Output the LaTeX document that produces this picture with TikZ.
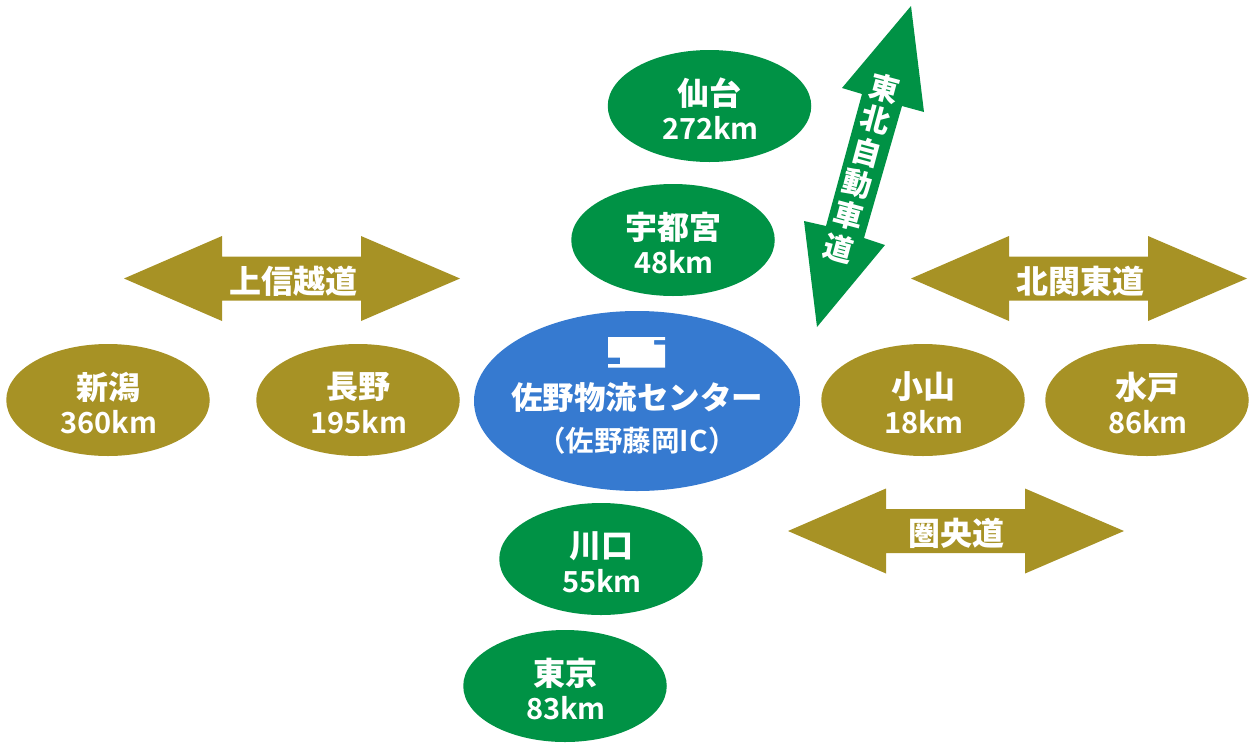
\documentclass[tikz,border=0pt]{standalone}
\usepackage{fontspec}
\setmainfont{Liberation Sans}
\newfontfamily\cjk{Noto Sans CJK JP}[UprightFont=* Black]
\newfontfamily\cjkb{Noto Sans CJK JP}[UprightFont=* Bold]
\newfontfamily\lat{Noto Sans CJK JP}[UprightFont=* Bold]
\definecolor{gr}{RGB}{0,146,69}
\definecolor{ol}{RGB}{167,146,37}
\definecolor{bl}{RGB}{54,122,208}
\usetikzlibrary{shapes.geometric,calc}
\tikzset{x=1pt,y=-1pt,
 oval/.style={ellipse,minimum width=203.5pt,minimum height=112pt,inner sep=0pt},
 txt/.style={text=white,inner sep=0pt},
 lab/.style={txt,font=\cjk\fontsize{32}{36}\selectfont},
 vlab/.style={txt,rotate=-15,font=\cjk\fontsize{29.5}{32}\selectfont}}
\newcommand{\dest}[5]{\node[oval,fill=#2] (#1) at (#3) {};
 \node[lab] (#1n) at ($(#3)+(0,-13)$) {#4};
 \node[txt,font=\lat\fontsize{29}{32}\selectfont] (#1k) at ($(#3)+(1,22)$) {#5};}
\newcommand{\harrow}[2]{%
 \fill[ol] (#1-168,#2) -- (#1-70,#2-42.5) -- (#1-70,#2-22) -- (#1+69,#2-22) -- (#1+69,#2-42.5) -- (#1+168,#2) -- (#1+69,#2+42.5) -- (#1+69,#2+22) -- (#1-70,#2+22) -- (#1-70,#2+42.5) -- cycle;}
\begin{document}
\begin{tikzpicture}
\useasboundingbox (0,0) rectangle (1255,750);
\dest{sendai}{gr}{709.5,106}{仙台}{272km}
\dest{utsu}{gr}{673,240}{宇都宮}{48km}
\dest{kawa}{gr}{601,559}{川口}{55km}
\dest{tokyo}{gr}{565,686}{東京}{83km}
\dest{niigata}{ol}{108,400}{新潟}{360km}
\dest{nagano}{ol}{358,400}{長野}{195km}
\dest{oyama}{ol}{923,400}{小山}{18km}
\dest{mito}{ol}{1147,400}{水戸}{86km}
\harrow{292}{278.5}
\harrow{1079}{278.5}
\harrow{956}{531}
\node[lab] (a) at (293,281) {上信越道};
\node[lab] (b) at (1080,281) {北関東道};
\node[lab] (c) at (956,533) {圏央道};
\fill[gr] (911,6) -- (924,112) -- (902,106) -- (864,238) -- (885,245) -- (817,327) -- (804,221) -- (826,226) -- (862,94) -- (842,88) -- cycle;
\foreach \c/\x/\y in {東/885/88,北/876/120,自/867/152,動/858/184,車/849/215,道/839/248}
 \node[vlab] at (\x,\y) {\c};
\node[ellipse,fill=bl,minimum width=326pt,minimum height=180pt,inner sep=0pt] (c0) at (637,401) {};
\fill[white] (608,337) -- (665,337) -- (665,340) -- (654,340) -- (654,344.5) -- (665,344.5) -- (665,367.5) -- (608,367.5) -- (608,364) -- (620,364) -- (620,357.5) -- (608,357.5) -- cycle;
\node[txt,font=\cjk\fontsize{31.5}{36}\selectfont] (c1) at (637,398) {佐野物流センター};
\node[txt,font=\cjkb\fontsize{28.5}{30}\selectfont] (c2) at (637,441) {（佐野藤岡IC）};
\end{tikzpicture}
\end{document}
